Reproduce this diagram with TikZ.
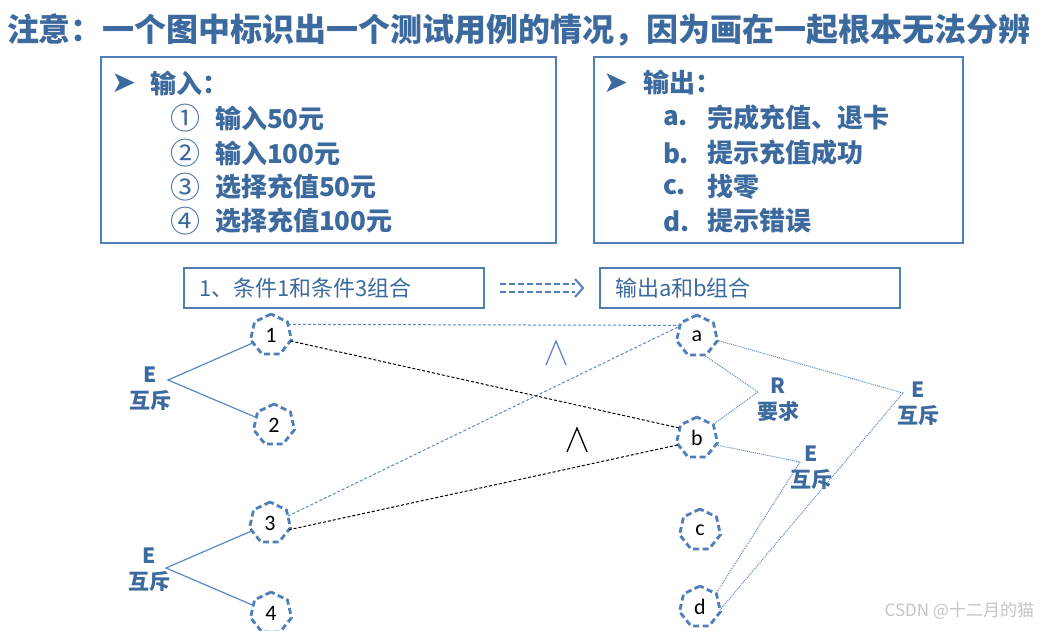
\documentclass[tikz,border=0pt]{standalone}
\usepackage{fontspec}
\setmainfont{Noto Sans CJK SC}
\newfontfamily\latinfont{Carlito}
\newfontfamily\symfont{DejaVu Sans}
\usetikzlibrary{shapes.geometric,calc}
\definecolor{titleblue}{HTML}{3C6A9E}
\definecolor{boxblue}{HTML}{4F7EB8}
\definecolor{linkblue}{HTML}{5A88C6}
\definecolor{markgray}{HTML}{C4C4C4}

\begin{document}
\begin{tikzpicture}[x=1pt,y=-1pt,
  every node/.style={inner sep=0pt, outer sep=0pt},
  heading/.style={text=titleblue, font=\bfseries\fontsize{32}{36}\selectfont},
  txt/.style={text=titleblue, anchor=west, font=\bfseries\fontsize{26}{30}\selectfont},
  numtxt/.style={text=titleblue, font=\fontsize{30}{32}\selectfont},
  bullet/.style={text=titleblue, font=\symfont\fontsize{30}{32}\selectfont},
  frame/.style={draw=boxblue, line width=2pt},
  tagbox/.style={frame, anchor=west, minimum height=39pt, text width=270pt, inner xsep=15pt,
    text=titleblue, font=\fontsize{22}{24}\selectfont},
  state/.style={regular polygon, regular polygon sides=7, minimum size=42pt,
    draw=boxblue, line width=2.8pt, dash pattern=on 6pt off 3.5pt,
    font=\latinfont\fontsize{22}{24}\selectfont},
  rel/.style={text=titleblue, align=center, font=\bfseries\fontsize{21}{26}\selectfont},
  branch/.style={draw=linkblue, line width=1.2pt},
  bluedash/.style={draw=linkblue, line width=1pt, dash pattern=on 3pt off 2pt},
  blackdash/.style={draw=black, line width=1pt, dash pattern=on 3pt off 2pt},
  constraint/.style={draw=linkblue, line width=1pt, dash pattern=on 1pt off 1pt},
  flow/.style={draw=boxblue, line width=2.4pt, dash pattern=on 6pt off 3pt},
  andmark/.style={line width=1.3pt, line join=miter}
]
\useasboundingbox (0,0) rectangle (1042,631);

% heading
\node[heading] (title) at (519,30) {注意：一个图中标识出一个测试用例的情况，因为画在一起根本无法分辨};

% input list
\node[frame, anchor=north west, minimum width=455pt, minimum height=186pt] (inbox) at (101,57) {};
\node[bullet] (inb) at (124,83) {➤};
\node[txt] (inh) at (150,83) {输入：};
\node[numtxt] (in1n) at (185,118) {①};
\node[txt] (in1) at (215,118) {输入50元};
\node[numtxt] (in2n) at (185,153) {②};
\node[txt] (in2) at (215,153) {输入100元};
\node[numtxt] (in3n) at (185,187) {③};
\node[txt] (in3) at (215,187) {选择充值50元};
\node[numtxt] (in4n) at (185,221) {④};
\node[txt] (in4) at (215,221) {选择充值100元};

% output list
\node[frame, anchor=north west, minimum width=369pt, minimum height=186pt] (outbox) at (594,57) {};
\node[bullet] (outb) at (616,83) {➤};
\node[txt] (outh) at (643,83) {输出：};
\node[txt] (out1n) at (663,118) {a.};
\node[txt] (out1) at (707,118) {完成充值、退卡};
\node[txt] (out2n) at (663,153) {b.};
\node[txt] (out2) at (707,153) {提示充值成功};
\node[txt] (out3n) at (663,187) {c.};
\node[txt] (out3) at (707,187) {找零};
\node[txt] (out4n) at (663,221) {d.};
\node[txt] (out4) at (707,221) {提示错误};

% test case tags
\node[tagbox] (cond) at (184,288) {1、条件1和条件3组合};
\node[tagbox] (eff) at (600,288) {输出a和b组合};
\draw[flow] ($(cond.east)+(16,-4)$) -- ++(75,0);
\draw[flow] ($(cond.east)+(16,4)$) -- ++(75,0);
\draw[draw=boxblue, line width=2pt] ($(cond.east)+(91,-9)$) -- ($(cond.east)+(99,0)$) -- ($(cond.east)+(91,9)$);

% causes
\node[state] (n1) at (271,335) {1};
\node[state] (n2) at (274,425) {2};
\node[state] (n3) at (270,523) {3};
\node[state] (n4) at (271,613) {4};

% effects
\node[state] (a) at (697,336) {a};
\node[state] (b) at (697,438) {b};
\node[state] (c) at (700,530) {c};
\node[state] (d) at (700,607) {d};

% exclusive groups among causes
\node[rel] (ex1) at (150,389) {E\\互斥};
\node[rel] (ex2) at (149,570) {E\\互斥};
\coordinate (ev1) at (168,380);
\coordinate (ev2) at (166,568);
\draw[branch] (n1) -- (ev1) -- (n2);
\draw[branch] (n3) -- (ev2) -- (n4);

% cause-effect links
\draw[bluedash] (n1.32) -- (a.148);
\draw[bluedash] (n3.21) -- (a.150);
\draw[blackdash] (n1.-17) -- (b.150);
\draw[blackdash] (n3.-20) -- (b.200);

% and markers
\draw[andmark, draw=linkblue] (546,365) -- (556,341) -- (566,365);
\draw[andmark, draw=black] (567,452) -- (577,428) -- (587,452);

% constraints among effects
\node[rel] (req) at (778,400) {R\\要求};
\node[rel] (ex3) at (918,404) {E\\互斥};
\node[rel] (ex4) at (811,468) {E\\互斥};
\coordinate (rv) at (758,392);
\coordinate (ev3) at (903,393);
\coordinate (ev4) at (800,462);
\draw[constraint] (a.-70) -- (rv) -- (b.40);
\draw[constraint] (a.-12) -- (ev3) -- (d.-8);
\draw[constraint] (b.-20) -- (ev4) -- (d.40);

% author mark
\node[text=markgray, anchor=east, font=\fontsize{17}{20}\selectfont] (sign) at (1034,611) {CSDN @十二月的猫};
\end{tikzpicture}
\end{document}
